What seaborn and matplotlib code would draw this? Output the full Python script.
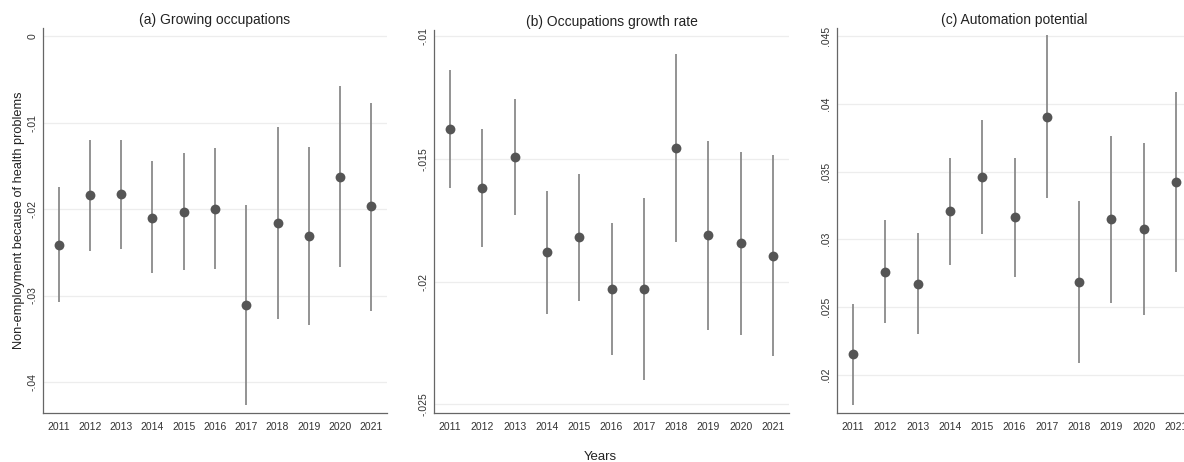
import numpy as np
import pandas as pd
import seaborn as sns
import matplotlib.pyplot as plt
from matplotlib.ticker import FuncFormatter

years = [2011, 2012, 2013, 2014, 2015, 2016, 2017, 2018, 2019, 2020, 2021]

# (a) Growing occupations
growing_est = [-0.0241, -0.0184, -0.0183, -0.0210, -0.0203, -0.0200, -0.0311, -0.0216, -0.0231, -0.0163, -0.0197]
growing_lo = [-0.0307, -0.0248, -0.0246, -0.0274, -0.0271, -0.0269, -0.0426, -0.0327, -0.0334, -0.0267, -0.0318]
growing_hi = [-0.0175, -0.0120, -0.0120, -0.0145, -0.0135, -0.0129, -0.0195, -0.0105, -0.0128, -0.0058, -0.0077]

# (b) Occupations growth rate
rate_est = [-0.01378, -0.01621, -0.01494, -0.01881, -0.01819, -0.02029, -0.02029, -0.01458, -0.01810, -0.01845, -0.01894]
rate_lo = [-0.01620, -0.01861, -0.01731, -0.02134, -0.02078, -0.02298, -0.02400, -0.01839, -0.02196, -0.02216, -0.02305]
rate_hi = [-0.01138, -0.01380, -0.01256, -0.01631, -0.01561, -0.01762, -0.01658, -0.01075, -0.01426, -0.01473, -0.01484]

# (c) Automation potential
auto_est = [0.02151, 0.02761, 0.02672, 0.03206, 0.03458, 0.03161, 0.03905, 0.02684, 0.03146, 0.03077, 0.03423]
auto_lo = [0.01775, 0.02380, 0.02299, 0.02808, 0.03038, 0.02721, 0.03302, 0.02089, 0.02529, 0.02442, 0.02756]
auto_hi = [0.02524, 0.03141, 0.03047, 0.03601, 0.03877, 0.03601, 0.04510, 0.03282, 0.03764, 0.03712, 0.04090]

titles = ["(a) Growing occupations", "(b) Occupations growth rate", "(c) Automation potential"]
yticks_list = [
    [0, -0.01, -0.02, -0.03, -0.04],
    [-0.01, -0.015, -0.02, -0.025],
    [0.02, 0.025, 0.03, 0.035, 0.04, 0.045],
]
ylims = [(-0.04358, 0.00093), (-0.02535, -0.00976), (0.01718, 0.04559)]

sns.set_theme(style="white")
plt.rcParams['font.family'] = ['Arial', 'Liberation Sans', 'DejaVu Sans']

W, H = 1184, 462
fig = plt.figure(figsize=(W / 100, H / 100), dpi=100)

# axes rectangles in pixels: left, top, right, bottom
boxes = [(43, 28, 387, 413), (434, 30, 789, 413), (837, 28, 1192, 413)]


def stata_fmt(v, pos):
    if abs(v) < 1e-12:
        return "0"
    s = f"{v:.3f}".rstrip("0")
    return s.replace("0.", ".")


series = [
    (growing_est, growing_lo, growing_hi),
    (rate_est, rate_lo, rate_hi),
    (auto_est, auto_lo, auto_hi),
]

for i, (est, lo, hi) in enumerate(series):
    l, t, r, b = boxes[i]
    ax = fig.add_axes([l / W, 1 - b / H, (r - l) / W, (b - t) / H])
    df = pd.DataFrame({"year": years, "est": est, "lo": lo, "hi": hi})

    ax.vlines(df["year"], df["lo"], df["hi"], color="#8a8a8a", linewidth=1.3, zorder=2)
    sns.scatterplot(data=df, x="year", y="est", ax=ax, color="#555555", s=50,
                    edgecolor="#555555", linewidth=0, zorder=3)

    ax.set_xlim(2010.5, 2021.5)
    ax.set_ylim(*ylims[i])
    ax.set_xticks(years)
    ax.set_xticklabels([str(y) for y in years], fontsize=7.5, color="#333333")
    ax.set_yticks(yticks_list[i])
    ax.yaxis.set_major_formatter(FuncFormatter(stata_fmt))
    for lab in ax.get_yticklabels():
        lab.set_rotation(90)
        lab.set_va("center")
        lab.set_fontsize(7.5)
        lab.set_color("#333333")
    ax.tick_params(axis="both", length=3.6, width=0.8, color="#666666", pad=3)
    ax.tick_params(axis="y", pad=0.5)
    ax.grid(axis="y", color="#ededed", linewidth=0.9)
    ax.set_axisbelow(True)
    for side in ["top", "right"]:
        ax.spines[side].set_visible(False)
    for side in ["left", "bottom"]:
        ax.spines[side].set_color("#666666")
        ax.spines[side].set_linewidth(0.9)
    ax.set_xlabel("")
    ax.set_ylabel("")
    ax.set_title(titles[i], fontsize=10, color="#222222", pad=3)
    if i == 0:
        ax.set_ylabel("Non-employment because of health problems", fontsize=9.2, color="#222222", labelpad=2)

fig.text(600 / W, 1 - 457 / H, "Years", ha="center", va="center", fontsize=9.5, color="#222222")

fig.savefig("out.png", dpi=100)
